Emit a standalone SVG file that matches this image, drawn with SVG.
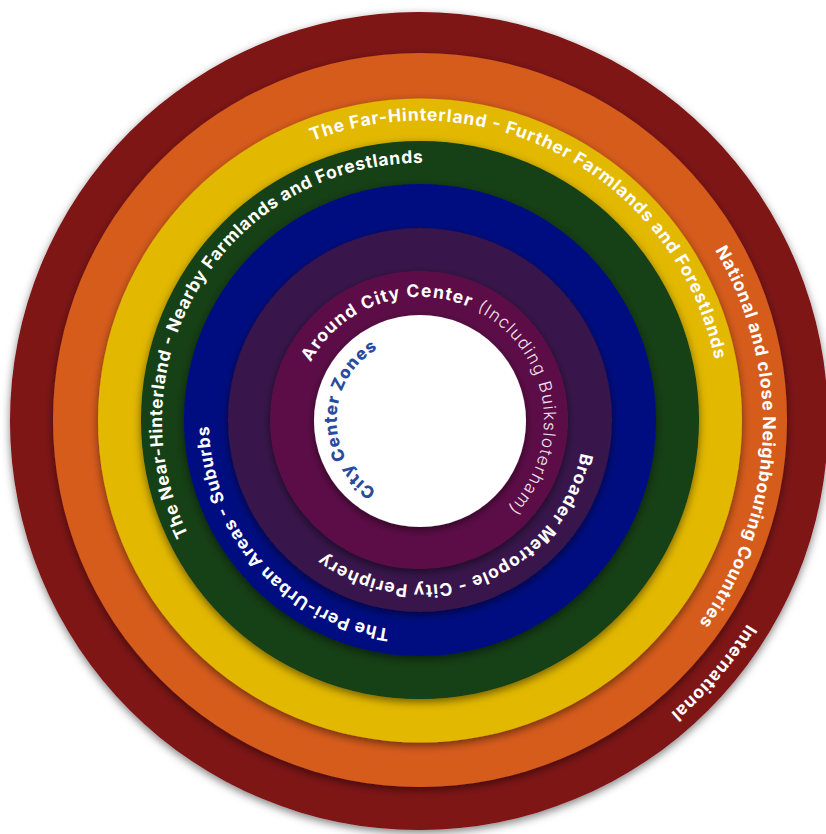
<svg xmlns="http://www.w3.org/2000/svg" width="826" height="834" viewBox="0 0 826 834">
<defs>
<filter id="sh" x="-10%" y="-10%" width="120%" height="120%">
<feDropShadow dx="0" dy="3" stdDeviation="4" flood-color="#000" flood-opacity="0.5"/>
</filter>
<path id="pIntl" d="M747.2,623.9 A385,385 0 1 1 92.8,218.1 A385,385 0 1 1 747.2,623.9"/>
<path id="pNat" d="M715.0,250.0 A341,341 0 1 1 125.0,592.0 A341,341 0 1 1 715.0,250.0"/>
<path id="pFar" d="M312.25,141.02 A300,300 0 1 1 527.75,700.98 A300,300 0 1 1 312.25,141.02"/>
<path id="pNear" d="M188.5,534.9 A258,258 0 1 1 651.5,307.1 A258,258 0 1 1 188.5,534.9"/>
<path id="pPeri" d="M389.7,628.8 A210,210 0 1 1 450.3,213.2 A210,210 0 1 1 389.7,628.8"/>
<path id="pBroad" d="M580.9,452.9 A164,164 0 1 1 259.1,389.1 A164,164 0 1 1 580.9,452.9"/>
<path id="pAround" d="M310.8,362.2 A124,124 0 1 1 529.2,479.8 A124,124 0 1 1 310.8,362.2"/>
<path id="pZones" d="M376.2,490.3 A82,82 0 1 1 463.8,351.7 A82,82 0 1 1 376.2,490.3"/>
</defs>
<style>
.ring{filter:url(#sh)}
.lbl{font-family:Inter,"Open Sans","Liberation Sans",sans-serif;font-weight:700;font-size:17.5px;fill:#ffffff}
.light{font-family:Inter,"Open Sans","Liberation Sans",sans-serif;font-weight:300;font-size:17px;fill:#f3e6ef}
.zones{font-family:Inter,"Open Sans","Liberation Sans",sans-serif;font-weight:800;font-size:17px;fill:#2a4b9c}
</style>
<rect width="826" height="834" fill="#ffffff"/>
<g id="international">
<circle class="ring" cx="419" cy="421" r="409" fill="#7e1214"/>
<text class="lbl"><textPath href="#pIntl" textLength="118" lengthAdjust="spacing">International</textPath></text>
</g>
<g id="national">
<circle class="ring" cx="420" cy="420" r="367" fill="#d65b1f"/>
<text class="lbl"><textPath href="#pNat" textLength="395" lengthAdjust="spacing">National and close Neighbouring Countries</textPath></text>
</g>
<g id="far-hinterland">
<circle class="ring" cx="420" cy="420.5" r="322" fill="#e2b800"/>
<text class="lbl"><textPath href="#pFar" textLength="521" lengthAdjust="spacing">The Far-Hinterland - Further Farmlands and Forestlands</textPath></text>
</g>
<g id="near-hinterland">
<circle class="ring" cx="420" cy="420" r="279" fill="#133f16"/>
<text class="lbl"><textPath href="#pNear" textLength="526" lengthAdjust="spacing">The Near-Hinterland - Nearby Farmlands and Forestlands</textPath></text>
</g>
<g id="peri-urban">
<circle class="ring" cx="420" cy="420" r="236" fill="#020d80"/>
<text class="lbl"><textPath href="#pPeri" textLength="295" lengthAdjust="spacing">The Peri-Urban Areas - Suburbs</textPath></text>
</g>
<g id="broader-metropole">
<circle class="ring" cx="420" cy="420" r="192" fill="#37134b"/>
<text class="lbl"><textPath href="#pBroad" textLength="329" lengthAdjust="spacing">Broader Metropole - City Periphery</textPath></text>
</g>
<g id="around-city-center">
<circle class="ring" cx="419" cy="420" r="149" fill="#5c0e46"/>
<text class="lbl"><textPath href="#pAround" textLength="184" lengthAdjust="spacing">Around City Center</textPath></text>
<text class="light"><textPath href="#pAround" startOffset="192" textLength="233" lengthAdjust="spacing">(Including Buiksloterham)</textPath></text>
</g>
<g id="city-center">
<circle class="ring" cx="420" cy="421" r="106" fill="#ffffff"/>
<text class="zones"><textPath href="#pZones" textLength="170" lengthAdjust="spacing">City Center Zones</textPath></text>
</g>
<g id="connectors"/>
</svg>
